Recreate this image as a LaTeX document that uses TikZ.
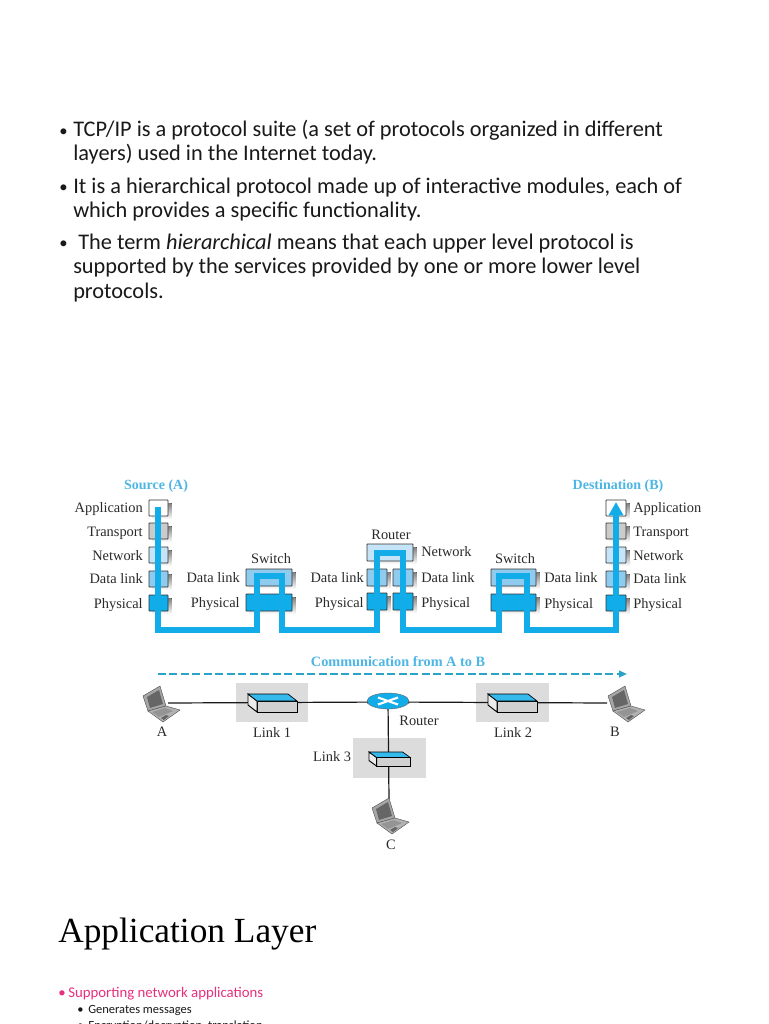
\documentclass[tikz,border=0pt]{standalone}
\usepackage{fontspec}
\setmainfont{Liberation Serif}
\newfontfamily\bodyfont{Carlito}
\usetikzlibrary{arrows.meta,shapes.geometric}
\definecolor{flow}{HTML}{12ADE8}
\definecolor{headblue}{HTML}{4DB6E4}
\definecolor{dashblue}{HTML}{2AA3C9}
\definecolor{lyApp}{HTML}{FFFFFF}
\definecolor{lyTra}{HTML}{CBCBCB}
\definecolor{lyNet}{HTML}{C6E4F7}
\definecolor{lyDat}{HTML}{8FCBEE}
\definecolor{lyPhy}{HTML}{0FAEEA}
\definecolor{shade}{HTML}{222222}
\definecolor{linkbg}{HTML}{DCDCDC}
\definecolor{inktxt}{HTML}{2A2A2A}
\definecolor{pinktxt}{HTML}{E8307E}
\tikzset{
  px/.style={x=0.75pt,y=-0.75pt},
  layerbox/.style={draw=black!80,line width=0.7pt,inner sep=0pt,rounded corners=0.4pt},
  lbl/.style={font=\fontsize{10.8pt}{12pt}\selectfont,text=inktxt,inner sep=0pt},
  lblL/.style={lbl,anchor=base east},
  lblR/.style={lbl,anchor=base west},
  lblC/.style={lbl,anchor=base},
  blueHead/.style={font=\fontsize{10.5pt}{12pt}\selectfont\bfseries,text=headblue,inner sep=0pt,anchor=base},
  bodyline/.style={font=\bodyfont\fontsize{16.75pt}{20pt}\selectfont,text=black!90,inner sep=0pt,anchor=base west},
  bodybul/.style={font=\bodyfont\fontsize{12.5pt}{15pt}\selectfont,text=black!90,inner sep=0pt,anchor=base west},
  pinkline/.style={font=\bodyfont\fontsize{11.1pt}{13pt}\selectfont,text=pinktxt,inner sep=0pt,anchor=base west},
  subline/.style={font=\bodyfont\fontsize{9.35pt}{11pt}\selectfont,text=black!90,inner sep=0pt,anchor=base west},
  flowline/.style={draw=flow,line width=3.9pt,line join=miter},
  wire/.style={draw=black!90,line width=0.9pt},
  linkpad/.style={fill=linkbg,draw=none,inner sep=0pt},
  pics/laptop/.style={code={
    \fill[gray!70,draw=gray!60!black,line width=.3pt] (-17,-7)--(0,-17)--(6,3)--(-12,8)--cycle;
    \fill[black!60] (-13,-6)--(-1,-13)--(3,1)--(-10,5)--cycle;
    \fill[gray!60,draw=gray!60!black,line width=.3pt] (-12,8)--(6,3)--(20,7)--(3,19)--cycle;
    \fill[black!42] (-8,9)--(5,5)--(13,8)--(-1,14)--cycle;
    \fill[black!60] (1,15)--(6,12)--(9,13)--(4,17)--cycle;
  }},
  pics/switchicon/.style={code={
    \filldraw[fill=black!18,draw=black,line width=.7pt] (9,7)--(49,7)--(49,18)--(9,18)--cycle;
    \filldraw[fill=black!8,draw=black,line width=.7pt] (0,0)--(9,7)--(9,18)--(0,11)--cycle;
    \filldraw[fill=flow!85!white,draw=black,line width=.5pt] (0,0)--(40,0)--(49,7)--(9,7)--cycle;
  }},
}
\newcommand{\lay}[6]{\fill[shade] ({#2-#4/2+3.5},{#3-#5/2+3}) rectangle ({#2+#4/2+3.5},{#3+#5/2+3});
  \node[layerbox,fill=#6,minimum width=#4*0.75pt,minimum height=#5*0.75pt] (#1) at (#2,#3) {};}
\begin{document}
\begin{tikzpicture}[px]
\clip (0,0) rectangle (768,1024);
\fill[white] (0,0) rectangle (768,1024);
% upper text
\node[bodybul] (b1) at (59,136) {•};
\node[bodyline] (t1) at (73,137) {TCP/IP is a protocol suite (a set of protocols organized in different};
\node[bodyline] (t2) at (73,160) {layers) used in the Internet today.};
\node[bodybul] (b2) at (59,192) {•};
\node[bodyline] (t3) at (73,193) {It is a hierarchical protocol made up of interactive modules, each of};
\node[bodyline] (t4) at (73,217) {which provides a specific functionality.};
\node[bodybul] (b3) at (59,248) {•};
\node[bodyline] (t5) at (78,249) {The term \textit{hierarchical} means that each upper level protocol is};
\node[bodyline] (t6) at (73,273) {supported by the services provided by one or more lower level};
\node[bodyline] (t7) at (73,298) {protocols.};
% stacks
\lay{aApp}{158.5}{508}{19}{16}{lyApp}
\lay{aTra}{158.5}{531}{19}{16}{lyTra}
\lay{aNet}{158.5}{555}{19}{16}{lyNet}
\lay{aDat}{158.5}{579}{19}{16}{lyDat}
\lay{aPhy}{158.5}{603}{19}{16}{lyPhy}
\lay{bApp}{616}{508}{20}{16}{lyApp}
\lay{bTra}{616}{531}{20}{16}{lyTra}
\lay{bNet}{616}{555}{20}{16}{lyNet}
\lay{bDat}{616}{579}{20}{16}{lyDat}
\lay{bPhy}{616}{603}{20}{16}{lyPhy}
\lay{s1Dat}{269}{577.5}{46}{17}{lyDat}
\lay{s1Phy}{269}{602.5}{46}{17}{lyPhy}
\lay{s2Dat}{513.5}{577.5}{45}{17}{lyDat}
\lay{s2Phy}{513.5}{602.5}{45}{17}{lyPhy}
\lay{rNet}{390}{552.5}{46}{17}{lyNet}
\lay{rDat1}{377}{577.5}{20}{17}{lyDat}
\lay{rDat2}{403}{577.5}{20}{17}{lyDat}
\lay{rPhy1}{377}{601.5}{20}{17}{lyPhy}
\lay{rPhy2}{403}{601.5}{20}{17}{lyPhy}
% flow path
\coordinate (f1) at (158,630);
\coordinate (f2) at (257,630);
\coordinate (f3) at (257,576);
\coordinate (f4) at (282,576);
\coordinate (f5) at (282,630);
\coordinate (f6) at (377,630);
\coordinate (f7) at (377,553);
\coordinate (f8) at (403,553);
\coordinate (f9) at (403,630);
\coordinate (f10) at (499,630);
\coordinate (f11) at (499,576);
\coordinate (f12) at (527,576);
\coordinate (f13) at (527,630);
\coordinate (f14) at (616,630);
\coordinate (fs) at (158,507);
\coordinate (fe) at (616,502);
\draw[flowline,-{Triangle[length=10pt,width=10.5pt]}] (fs)--(f1)--(f2)--(f3)--(f4)--(f5)--(f6)--(f7)--(f8)--(f9)--(f10)--(f11)--(f12)--(f13)--(f14)--(fe);
% stack labels
\node[blueHead] (srcA) at (156,489) {Source (A)};
\node[blueHead] (dstB) at (618,489) {Destination (B)};
\node[lblL] (la1) at (143,512) {Application};
\node[lblL] (la2) at (143,536) {Transport};
\node[lblL] (la3) at (143,560) {Network};
\node[lblL] (la4) at (143,583) {Data link};
\node[lblL] (la5) at (143,608) {Physical};
\node[lblR] (lb1) at (633,512) {Application};
\node[lblR] (lb2) at (633,536) {Transport};
\node[lblR] (lb3) at (633,560) {Network};
\node[lblR] (lb4) at (633,583) {Data link};
\node[lblR] (lb5) at (633,608) {Physical};
\node[lblC] (ls0) at (271,563) {Switch};
\node[lblL] (ls1) at (240,582) {Data link};
\node[lblL] (ls2) at (240,607) {Physical};
\node[lblL] (lr1) at (364,582) {Data link};
\node[lblL] (lr2) at (364,607) {Physical};
\node[lblC] (lr0) at (391,539) {Router};
\node[lblR] (lr3) at (421,556) {Network};
\node[lblR] (lr4) at (421,582) {Data link};
\node[lblR] (lr5) at (421,607) {Physical};
\node[lblC] (lt0) at (515,563) {Switch};
\node[lblR] (lt1) at (544,582) {Data link};
\node[lblR] (lt2) at (544,608) {Physical};
% communication arrow
\node[blueHead,font=\fontsize{10.7pt}{12pt}\selectfont\bfseries] (comm) at (398,666) {Communication from A to B};
\coordinate (dashS) at (158,674);
\coordinate (dashE) at (627,674);
\draw[draw=dashblue,line width=1.3pt,dash pattern=on 6pt off 2.6pt,-{Triangle[length=6pt,width=5pt]}] (dashS)--(dashE);
% link pads
\node[linkpad,minimum width=72*0.75pt,minimum height=39*0.75pt] (pad1) at (272,702.5) {};
\node[linkpad,minimum width=73*0.75pt,minimum height=39*0.75pt] (pad2) at (512.5,702.5) {};
\node[linkpad,minimum width=73*0.75pt,minimum height=40*0.75pt] (pad3) at (389.5,758) {};
% wires
\coordinate (lapA) at (168,703);
\coordinate (lapB) at (607,703);
\coordinate (lapC) at (389,799);
\coordinate (rt) at (388,702);
\draw[wire] (lapA)--(rt)--(lapB);
\draw[wire] (rt)--(lapC);
% icons
\pic at (248,694) {switchicon};
\pic at (488,694) {switchicon};
\pic[xscale=.84,yscale=.78] at (369,752) {switchicon};
\pic at (160,703) {laptop};
\pic at (625,703) {laptop};
\pic at (389,815) {laptop};
\fill[black!85] (367,704) arc[start angle=180,end angle=360,x radius=21,y radius=5] -- (409,701) -- (367,701) -- cycle;
\node[ellipse,fill=flow,draw=black!60,line width=.3pt,inner sep=0pt,minimum width=42*0.75pt,minimum height=16*0.75pt] (router) at (388,701) {};
\draw[white,line width=1.6pt] (378,697.5)--(398,704.5) (378,704.5)--(398,697.5);
% lower labels
\node[lblC] (nA) at (162,736) {A};
\node[lblC] (nL1) at (272,737) {Link 1};
\node[lblC] (nR) at (419,725) {Router};
\node[lblC] (nL2) at (513,737) {Link 2};
\node[lblC] (nB) at (615,736) {B};
\node[lblC] (nL3) at (332,761) {Link 3};
\node[lblC] (nC) at (391,849) {C};
% bottom slide
\node[font=\fontsize{26.5pt}{32pt}\selectfont,text=black,inner sep=0pt,anchor=base west] (title) at (58,942) {Application Layer};
\node[pinkline] (pb) at (58,997) {•};
\node[pinkline] (pk) at (68,997) {Supporting network applications};
\node[subline] (g0) at (77,1013) {•};
\node[subline] (g1) at (88,1013) {Generates messages};
\node[subline] (g2) at (77,1029) {•};
\node[subline] (g3) at (88,1029) {Encryption/decryption, translation};
\end{tikzpicture}
\end{document}
